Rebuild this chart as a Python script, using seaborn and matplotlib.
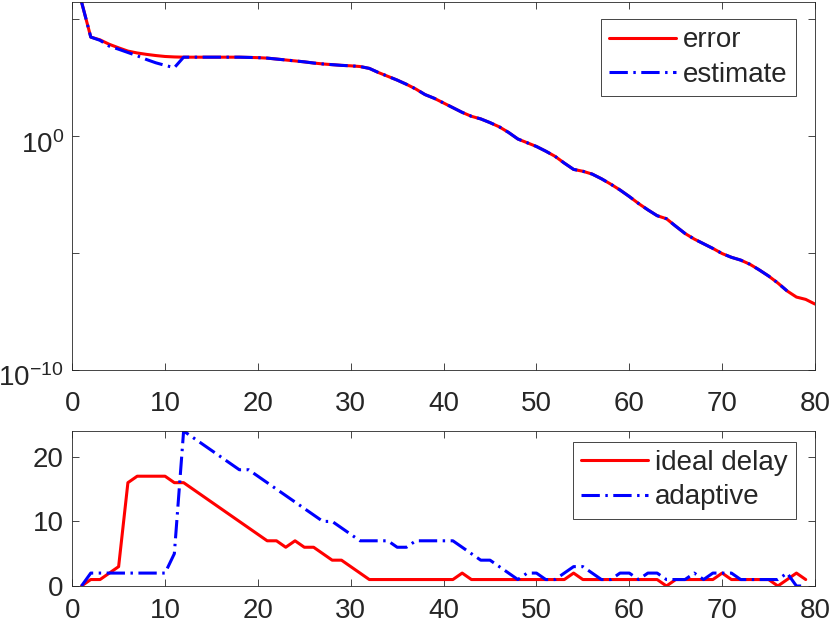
import numpy as np
import pandas as pd
import matplotlib
matplotlib.use("Agg")
import matplotlib.pyplot as plt
import matplotlib.transforms as mtransforms
import seaborn as sns
from matplotlib.ticker import FixedLocator, FixedFormatter, NullLocator

# --- data ---
# upper panel: log10 of error / estimate, iterations 1..80 (estimate stops at 77)
log_err = [5.75, 4.24, 4.12, 3.93, 3.78, 3.64, 3.56, 3.50, 3.45, 3.41,
           3.39, 3.38, 3.38, 3.38, 3.38, 3.38, 3.38, 3.38, 3.37, 3.36,
           3.34, 3.30, 3.26, 3.22, 3.18, 3.13, 3.09, 3.06, 3.03, 3.01,
           2.98, 2.90, 2.72, 2.56, 2.40, 2.22, 2.02, 1.78, 1.62, 1.42,
           1.22, 1.02, 0.85, 0.74, 0.58, 0.40, 0.16, -0.12, -0.28, -0.44,
           -0.64, -0.86, -1.15, -1.42, -1.50, -1.62, -1.82, -2.05, -2.30, -2.58,
           -2.88, -3.15, -3.40, -3.53, -3.85, -4.16, -4.40, -4.60, -4.80, -5.02,
           -5.18, -5.30, -5.48, -5.72, -5.98, -6.28, -6.62, -6.88, -6.98, -7.18]
log_est = [5.75, 4.24, 4.10, 3.85, 3.72, 3.58, 3.44, 3.28, 3.14, 3.03,
           2.93, 3.38, 3.38, 3.38, 3.38, 3.38, 3.38, 3.38, 3.37, 3.36,
           3.34, 3.30, 3.26, 3.22, 3.18, 3.13, 3.09, 3.06, 3.03, 3.01,
           2.98, 2.90, 2.72, 2.56, 2.40, 2.22, 2.02, 1.78, 1.62, 1.42,
           1.22, 1.02, 0.85, 0.74, 0.58, 0.40, 0.16, -0.12, -0.28, -0.44,
           -0.64, -0.86, -1.15, -1.42, -1.50, -1.62, -1.82, -2.05, -2.30, -2.58,
           -2.88, -3.15, -3.40, -3.53, -3.85, -4.16, -4.40, -4.60, -4.80, -5.02,
           -5.18, -5.30, -5.48, -5.72, -5.98, -6.28, -6.62]

# lower panel: delays, iterations 1..79
ideal_delay = [0, 1, 1, 2, 3, 16, 17, 17, 17, 17,
               16, 16, 15, 14, 13, 12, 11, 10, 9, 8,
               7, 7, 6, 7, 6, 6, 5, 4, 4, 3,
               2, 1, 1, 1, 1, 1, 1, 1, 1, 1,
               1, 2, 1, 1, 1, 1, 1, 1, 1, 1,
               1, 1, 1, 2, 1, 1, 1, 1, 1, 1,
               1, 1, 1, 0, 1, 1, 1, 1, 1, 2,
               1, 1, 1, 1, 1, 0, 1, 2, 1]
adaptive = [0, 2, 2, 2, 2, 2, 2, 2, 2, 2,
            5, 24, 23, 22, 21, 20, 19, 18, 18, 17,
            16, 15, 14, 13, 12, 11, 10, 10, 9, 8,
            7, 7, 7, 7, 6, 6, 7, 7, 7, 7,
            7, 6, 5, 4, 4, 3, 2, 1, 2, 2,
            1, 1, 2, 3, 3, 2, 1, 1, 2, 2,
            1, 2, 2, 1, 1, 1, 2, 1, 2, 2,
            2, 1, 1, 1, 1, 1, 2, 0, 0]

it_err = np.arange(1, len(log_err) + 1)
it_est = np.arange(1, len(log_est) + 1)
it_del = np.arange(1, len(ideal_delay) + 1)

err = 10.0 ** np.array(log_err)
est = 10.0 ** np.array(log_est)

sns.set_style("white")
plt.rcParams['font.family'] = ['Liberation Sans', 'DejaVu Sans']
plt.rcParams['mathtext.fontset'] = 'custom'
plt.rcParams['mathtext.rm'] = 'Liberation Sans'

FS = 20
AX_COL = '#262626'
DASHDOT = (0, (6, 1.8, 0.8, 1.8))

fig = plt.figure(figsize=(8.3, 6.27), dpi=100)
W, H = 830, 627
ax1 = fig.add_axes([72.2 / W, 1 - 370 / H, (815 - 72.2) / W, (370 - 2) / H])
ax2 = fig.add_axes([72.2 / W, 1 - 586 / H, (815 - 72.2) / W, (586 - 431) / H])

# upper panel
ax1.set_yscale('log')
sns.lineplot(x=it_err, y=err, color='red', lw=2.2, label='error', ax=ax1, sort=False)
sns.lineplot(x=it_est, y=est, color='blue', lw=2.2, linestyle=DASHDOT,
             label='estimate', ax=ax1, sort=False)
ax1.set_xlim(0, 80)
ax1.set_ylim(1e-10, 10 ** 5.74)
ax1.yaxis.set_major_locator(FixedLocator([1e-10, 1e-5, 1e0, 1e5]))
ax1.yaxis.set_major_formatter(FixedFormatter([r'$\mathregular{10^{-10}}$', '',
                                              r'$\mathregular{10^{0}}$', '']))
ax1.yaxis.set_minor_locator(NullLocator())

# lower panel
sns.lineplot(x=it_del, y=ideal_delay, color='red', lw=2.2, label='ideal delay',
             ax=ax2, sort=False)
sns.lineplot(x=it_del, y=adaptive, color='blue', lw=2.2, linestyle=DASHDOT,
             label='adaptive', ax=ax2, sort=False)
ax2.set_xlim(0, 80)
ax2.set_ylim(0, 24)
ax2.set_yticks([0, 10, 20])

for ax in (ax1, ax2):
    ax.set_xticks(range(0, 81, 10))
    ax.set_xlabel('')
    ax.set_ylabel('')
    ax.tick_params(direction='in', length=5.3, width=0.6, color=AX_COL,
                   labelcolor=AX_COL, labelsize=FS, top=True, right=True,
                   bottom=True, left=True)
    ax.tick_params(axis='y', pad=6)
    for sp in ax.spines.values():
        sp.set_color(AX_COL)
        sp.set_linewidth(0.6)
ax1.tick_params(axis='x', pad=15)
ax2.tick_params(axis='x', pad=9)

# the power-of-ten labels sit a little low in the reference
shift = mtransforms.ScaledTranslation(0, -4 / 72, fig.dpi_scale_trans)
for lab in ax1.get_yticklabels():
    lab.set_transform(lab.get_transform() + shift)

leg_kw = dict(loc='upper right', fontsize=FS, frameon=True, fancybox=False,
              framealpha=1, edgecolor=AX_COL, borderaxespad=0, handlelength=2.4,
              handletextpad=0.25, labelspacing=0.3, borderpad=0.3)
l1 = ax1.legend(bbox_to_anchor=(0.9744, 0.954), **leg_kw)
l2 = ax2.legend(bbox_to_anchor=(0.9744, 0.931), **leg_kw)
for lg in (l1, l2):
    lg.get_frame().set_linewidth(0.6)

fig.savefig('out.png', dpi=100)
